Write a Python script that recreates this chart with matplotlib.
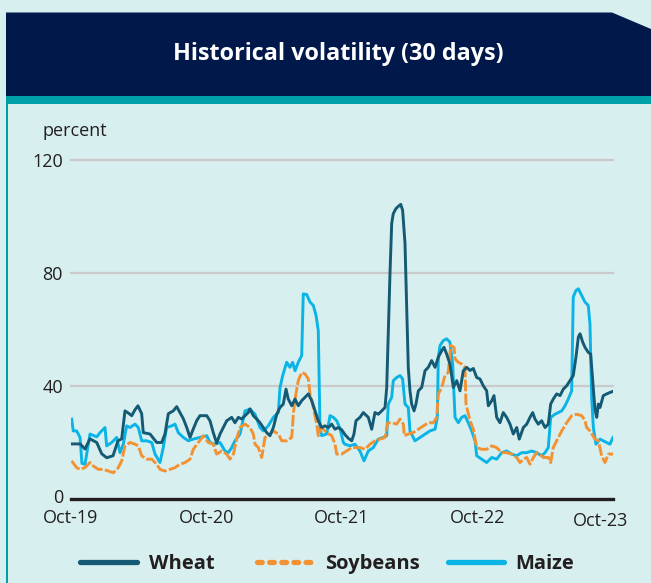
import matplotlib
matplotlib.use("Agg")
import matplotlib.pyplot as plt
from matplotlib.lines import Line2D
from matplotlib.patches import Polygon, Rectangle
import matplotlib.transforms as mtransforms

plt.rcParams['font.family'] = ['Open Sans', 'DejaVu Sans']

# ---- data: months since Oct-2019, volatility in percent ----
wheat_m = [0.06, 0.8, 1.24, 1.68, 2.28, 2.72, 3.16, 3.72, 4.16, 4.49, 4.78, 5.05, 5.38, 5.67, 5.93,
           6.26, 6.4, 7.0, 7.59, 8.03, 8.32, 8.62, 9.06, 9.36, 9.65, 9.95, 10.25, 10.54, 10.83,
           11.13, 11.42, 12.02, 12.31, 12.6, 12.9, 13.2, 13.49, 13.79, 14.23, 14.52, 14.82, 15.12,
           15.41, 15.7, 15.85, 16.15, 16.44, 16.74, 17.03, 17.33, 17.62, 17.92, 18.22, 18.51, 18.8,
           19.04, 19.24, 19.55, 19.84, 20.13, 20.43, 20.72, 21.02, 21.32, 21.61, 21.9, 22.2, 22.49,
           22.79, 23.09, 23.38, 23.67, 23.97, 24.26, 24.56, 24.86, 25.06, 25.24, 25.59, 25.89,
           26.33, 26.63, 26.92, 27.21, 27.52, 27.81, 27.96, 28.1, 28.25, 28.4, 28.54, 28.78, 28.99,
           29.2, 29.37, 29.58, 29.73, 29.87, 30.02, 30.17, 30.38, 30.55, 30.76, 31.06, 31.35,
           31.64, 31.94, 32.24, 32.53, 32.83, 33.03, 33.27, 33.56, 33.86, 34.16, 34.45, 34.74,
           35.04, 35.34, 35.63, 35.93, 36.22, 36.51, 36.81, 36.96, 37.26, 37.46, 37.7, 37.99,
           38.28, 38.58, 38.88, 39.17, 39.47, 39.7, 40.06, 40.36, 40.65, 40.89, 41.09, 41.38,
           41.68, 41.98, 42.27, 42.48, 42.71, 43.01, 43.31, 43.6, 43.9, 44.19, 44.48, 44.72,
           44.93, 45.08, 45.32, 45.52, 45.81, 46.02, 46.2, 46.4, 46.56, 46.7, 46.85, 47.14, 47.44,
           47.73, 48.0]
wheat_v = [19.5, 19.5, 17.7, 21.3, 20.0, 16.0, 14.6, 15.3, 20.6, 21.3, 31.2, 30.5, 29.5, 31.6, 33.0,
           30.2, 23.5, 23.0, 20.0, 20.0, 23.0, 30.2, 31.2, 32.7, 30.6, 28.4, 25.3, 21.8, 24.8,
           27.7, 29.5, 29.5, 27.7, 23.5, 19.8, 23.0, 25.3, 27.7, 28.9, 27.0, 28.9, 28.3,
           29.5, 30.6, 31.9, 29.5, 28.3, 27.0, 25.3, 23.5, 22.4, 25.3, 30.0, 32.4, 33.6,
           38.9, 35.4, 33.0, 35.4, 33.0, 34.8, 36.0, 37.2, 34.8, 31.2, 27.7, 25.3, 25.9,
           25.3, 26.5, 24.7, 25.3, 24.5, 22.8, 21.5, 20.6, 23.0, 27.7, 28.9, 30.6,
           28.9, 24.7, 30.6, 30.0, 31.2, 32.4, 39.5, 58.5, 79.8, 97.5, 101.0, 102.8, 103.6,
           104.3, 102.2, 90.4, 67.9, 46.6, 38.3, 33.6, 31.2, 33.6, 38.3, 39.5, 45.4,
           46.6, 49.0, 46.6, 50.2, 52.5, 53.7, 51.3, 47.8, 39.5, 41.9, 38.3, 45.4,
           46.6, 45.5, 46.2, 43.0, 42.5, 40.1, 38.3, 33.0, 34.8, 36.6, 28.9, 27.0,
           30.6, 28.9, 26.5, 23.0, 25.3, 21.2, 25.3, 26.5, 28.9, 30.6, 28.3, 26.5,
           27.7, 25.3, 26.5, 33.6, 35.4, 37.2, 36.6, 38.9, 40.1, 41.9, 43.7, 50.2,
           57.3, 58.5, 55.5, 53.7, 51.9, 51.3, 41.9, 31.8, 28.9, 33.6, 32.4, 36.6, 37.2,
           37.7, 38.1]

soy_m = [0.06, 0.5, 0.8, 1.24, 1.68, 1.97, 2.42, 2.86, 3.3, 3.75, 4.19, 4.49, 4.78, 5.23, 5.67,
         5.96, 6.26, 6.7, 7.15, 7.59, 7.88, 8.32, 8.77, 9.21, 9.65, 10.1, 10.54, 10.83, 11.27,
         11.72, 12.16, 12.6, 12.9, 13.35, 13.79, 14.08, 14.38, 14.67, 14.97, 15.41, 15.85,
         16.15, 16.3, 16.59, 16.89, 17.18, 17.47, 17.92, 18.36, 18.66, 19.1, 19.55, 19.69,
         19.84, 20.13, 20.43, 20.72, 21.02, 21.17, 21.46, 21.76, 21.9, 22.2, 22.64, 23.09,
         23.38, 23.53, 23.97, 24.41, 24.86, 25.15, 25.59, 26.04, 26.48, 26.92, 27.37, 27.81,
         28.05, 28.4, 28.84, 29.14, 29.43, 29.52, 29.87, 30.31, 30.76, 31.2, 31.64, 32.09,
         32.39, 32.53, 32.83, 33.12, 33.41, 33.63, 33.92, 34.01, 34.3, 34.6, 34.89, 34.98,
         35.34, 35.63, 35.93, 36.37, 36.81, 37.26, 37.7, 38.14, 38.58, 39.03, 39.47, 39.76,
         40.06, 40.36, 40.65, 40.95, 41.24, 41.54, 41.83, 42.27, 42.48, 42.71, 43.01, 43.46,
         43.9, 44.34, 44.78, 45.23, 45.52, 45.67, 45.96, 46.4, 46.7, 47.0, 47.29, 47.59, 48.0]
soy_v = [13.5, 11.1, 10.5, 11.1, 12.9, 11.7, 10.5, 10.5, 9.9, 9.3, 11.1, 13.5, 18.8, 20.0, 19.4,
         18.8, 15.3, 14.1, 14.1, 12.3, 10.5, 9.9, 10.5, 11.1, 12.3, 12.9, 14.1, 17.6, 20.0,
         22.4, 20.0, 19.4, 15.9, 17.0, 15.9, 14.1, 15.9, 21.2, 25.3, 26.5, 25.3,
         23.0, 19.4, 18.2, 14.7, 21.8, 22.4, 24.1, 23.0, 20.6, 20.6, 21.8, 30.0,
         35.4, 41.9, 44.8, 44.3, 42.5, 37.2, 32.4, 26.5, 22.4, 25.3, 23.5, 22.4,
         19.4, 15.9, 15.9, 17.0, 18.2, 18.2, 18.2, 17.6, 19.4, 20.6, 21.2, 21.8,
         27.0, 27.0, 26.5, 28.3, 26.5, 22.4, 23.0, 23.5, 24.7, 25.9, 27.0, 27.0,
         28.9, 37.2, 39.5, 43.7, 44.8, 54.3, 53.7, 49.6, 48.4, 47.8, 46.6, 33.6,
         27.7, 24.7, 18.2, 17.6, 17.6, 18.8, 18.2, 16.4, 16.4, 15.9, 14.7, 12.9,
         14.1, 14.7, 12.3, 14.7, 16.4, 15.9, 14.7, 14.7, 12.9, 18.2, 20.6, 24.1,
         27.0, 29.5, 30.0, 29.5, 27.7, 25.3, 24.1, 21.2, 20.6, 15.3, 12.9, 15.9, 15.9]

maize_m = [0.06, 0.2, 0.5, 0.8, 0.97, 1.24, 1.68, 2.28, 2.57, 3.01, 3.16, 3.6, 4.05, 4.34, 4.63,
           4.93, 5.23, 5.67, 5.96, 6.26, 6.7, 7.15, 7.44, 7.88, 8.17, 8.47, 8.92, 9.21, 9.5,
           9.95, 10.39, 10.83, 11.42, 12.02, 12.31, 12.75, 13.2, 13.64, 13.93, 14.23, 14.52,
           14.97, 15.41, 15.85, 16.3, 16.74, 17.03, 17.47, 17.92, 18.36, 18.51, 18.75, 19.1,
           19.39, 19.63, 19.84, 20.13, 20.43, 20.57, 20.87, 21.17, 21.46, 21.7, 21.9, 22.05,
           22.2, 22.64, 22.94, 23.23, 23.53, 23.82, 24.12, 24.26, 24.71, 25.15, 25.59, 25.95,
           26.33, 26.77, 27.21, 27.66, 27.96, 28.1, 28.4, 28.54, 28.84, 29.14, 29.37, 29.58,
           29.87, 30.02, 30.46, 30.91, 31.35, 31.79, 32.24, 32.44, 32.53, 32.68, 32.97, 33.27,
           33.56, 33.8, 34.01, 34.3, 34.6, 34.89, 35.18, 35.49, 35.78, 35.93, 36.37, 36.81,
           37.26, 37.7, 38.14, 38.58, 39.03, 39.47, 39.91, 40.36, 40.8, 41.24, 41.68, 41.98,
           42.27, 42.48, 42.86, 43.16, 43.46, 43.75, 44.04, 44.34, 44.48, 44.72, 44.93, 45.23,
           45.52, 45.81, 45.96, 46.11, 46.26, 46.49, 46.85, 47.14, 47.44, 47.73, 48.0]
maize_v = [28.3, 24.1, 24.1, 21.8, 12.6, 12.3, 23.0, 22.0, 23.5, 25.3, 18.8, 20.0, 21.8, 16.4, 19.4,
           25.9, 25.3, 26.5, 25.3, 20.6, 20.6, 20.0, 15.9, 12.9, 18.2, 25.3, 25.9, 26.5, 23.5,
           21.8, 20.6, 21.2, 21.8, 22.4, 20.0, 19.4, 20.0, 17.0, 16.4, 18.2, 20.6,
           23.0, 31.2, 31.8, 30.0, 25.3, 24.1, 25.9, 28.9, 30.6, 39.5, 43.7, 48.4,
           46.6, 48.4, 45.4, 48.4, 50.8, 72.6, 72.4, 69.7, 68.5, 65.0, 59.6, 25.3,
           22.4, 23.0, 29.5, 28.9, 27.7, 25.0, 20.0, 19.4, 18.8, 19.4, 17.0, 13.5,
           17.0, 18.2, 21.2, 21.8, 22.4, 33.6, 36.0, 41.9, 43.0, 43.7, 42.5, 33.6,
           32.4, 24.1, 20.6, 21.8, 23.0, 24.1, 24.7, 28.9, 50.2, 54.3, 56.1, 56.7,
           55.5, 47.8, 28.9, 27.0, 28.9, 29.5, 27.0, 24.1, 20.6, 15.3, 14.1, 12.9,
           14.7, 14.1, 16.4, 17.0, 15.9, 15.3, 16.4, 16.4, 17.0, 16.4, 15.3, 16.4,
           18.2, 28.9, 30.0, 30.6, 31.2, 33.0, 35.4, 38.3, 71.5, 73.8, 74.4, 72.0,
           69.7, 68.5, 62.0, 36.0, 25.3, 19.4, 21.2, 20.6, 20.0, 19.4, 21.8]

tick_months = [0, 12, 24, 36, 48]
tick_labels = ['Oct-19', 'Oct-20', 'Oct-21', 'Oct-22', 'Oct-23']
y_ticks = [0, 40, 80, 120]
series_names = ['Wheat', 'Soybeans', 'Maize']

# ---- styling ----
W, H = 651, 583
BG = '#d8eff0'
NAVY = '#00194a'
TEAL = '#00a0a8'
C_WHEAT = '#145a74'
C_SOY = '#f39232'
C_MAIZE = '#0ab4e6'
TXT = '#231f20'

def fx(x):
    return x / W

def fy(y):
    return 1 - y / H

fig = plt.figure(figsize=(W / 100, H / 100), dpi=100, facecolor=BG)

# header
fig.add_artist(Polygon([(fx(6), fy(12.5)), (fx(612), fy(12.5)), (fx(651), fy(29)),
                        (fx(651), fy(96)), (fx(6), fy(96))], closed=True,
                       transform=fig.transFigure, facecolor=NAVY, edgecolor='none'))
fig.add_artist(Rectangle((fx(6), fy(104)), fx(645), fy(96) - fy(104),
                         transform=fig.transFigure, facecolor=TEAL, edgecolor='none'))
fig.add_artist(Rectangle((fx(6), 0), fx(2), fy(104),
                         transform=fig.transFigure, facecolor=TEAL, edgecolor='none'))
fig.text(fx(338), fy(59.5), 'Historical volatility (30 days)', color='white',
         fontsize=16.8, fontweight='bold', ha='center', va='baseline')

# axes
ax = fig.add_axes([fx(71), fy(499), fx(613) - fx(71), fy(160) - fy(499)])
ax.set_facecolor('none')
ax.set_xlim(0, 48)
ax.set_ylim(0, 120)
for s in ax.spines.values():
    s.set_visible(False)

for yv in y_ticks[1:]:
    ax.axhline(yv, color='#cacaca', lw=1.6, zorder=1, clip_on=False)

ax.plot(wheat_m, wheat_v, color=C_WHEAT, lw=2.1, zorder=4, solid_joinstyle='round')
ax.plot(soy_m, soy_v, color=C_SOY, lw=2.1, zorder=3, linestyle=(0, (4, 0.8)),
        dash_joinstyle='round')
ax.plot(maize_m, maize_v, color=C_MAIZE, lw=2.1, zorder=2, solid_joinstyle='round')

ax.axhline(0, color=TXT, lw=2.4, zorder=5, clip_on=False)

ax.set_yticks(y_ticks)
ax.set_yticklabels([str(v) for v in y_ticks])
ax.set_xticks(tick_months)
ax.set_xticklabels(tick_labels)
ax.tick_params(axis='both', length=0, labelsize=13, labelcolor=TXT)
ax.tick_params(axis='y', pad=5.8)
ax.tick_params(axis='x', pad=7.2)
zero_lbl = ax.get_yticklabels()[0]
zero_lbl.set_transform(zero_lbl.get_transform() + mtransforms.ScaledTranslation(0, 3 / 100, fig.dpi_scale_trans))
last = ax.get_xticklabels()[-1]
last.set_transform(last.get_transform() + mtransforms.ScaledTranslation(-12 / 100, -2.5 / 100, fig.dpi_scale_trans))

fig.text(fx(43), fy(136), 'percent', fontsize=13, color=TXT, ha='left', va='baseline')

# legend
ly = fy(562)
handles = [
    (80, 137, C_WHEAT, '-', 149),
    (257, 311, C_SOY, (0, (0.9, 1.4)), 325),
    (448, 504, C_MAIZE, '-', 515),
]
for (x1, x2, col, ls, tx), name in zip(handles, series_names):
    fig.add_artist(Line2D([fx(x1), fx(x2)], [ly, ly], transform=fig.transFigure, color=col,
                          lw=3.8, linestyle=ls, solid_capstyle='round', dash_capstyle='round'))
    fig.text(fx(tx), fy(569), name, fontsize=14.5, fontweight='bold', color=TXT,
             ha='left', va='baseline')

fig.savefig('out.png', dpi=100, facecolor=BG)
